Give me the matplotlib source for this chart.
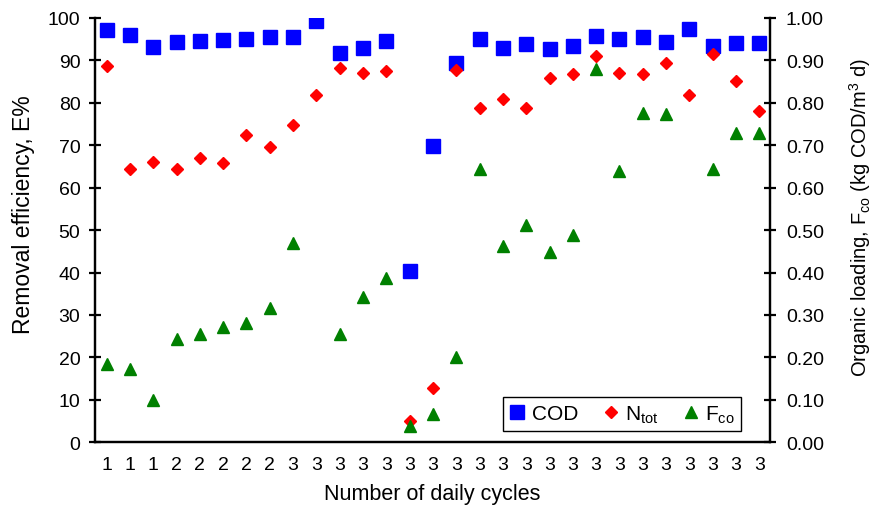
import numpy as np
import matplotlib
matplotlib.use("Agg")
import matplotlib.pyplot as plt
from matplotlib.ticker import FormatStrFormatter

plt.rcParams['font.family'] = ['Liberation Sans', 'DejaVu Sans']
plt.rcParams['mathtext.fontset'] = 'custom'
plt.rcParams['mathtext.rm'] = 'Liberation Sans'
plt.rcParams['mathtext.it'] = 'Liberation Sans:italic'

# daily cycles for each run
cycles = [1, 1, 1, 2, 2, 2, 2, 2] + [3] * 21

# removal efficiency, %
cod = [97.1, 95.9, 93.2, 94.3, 94.5, 94.7, 95.0, 95.4, 95.4, 99.2, 91.7, 92.9,
       94.5, 40.3, 69.8, 89.5, 95.0, 93.0, 93.8, 92.8, 93.3, 95.7, 95.0, 95.4,
       94.4, 97.3, 93.3, 94.0, 94.0]
ntot = [88.7, 64.5, 66.0, 64.5, 67.1, 65.9, 72.5, 69.6, 74.8, 81.8, 88.3, 87.1,
        87.6, 5.1, 12.9, 87.8, 78.8, 81.0, 78.8, 85.9, 86.9, 91.0, 87.0, 86.9,
        89.5, 81.9, 91.4, 85.1, 78.1]

# organic loading, kg COD/m3 d
fco = [0.185, 0.173, 0.100, 0.244, 0.255, 0.271, 0.281, 0.317, 0.470, np.nan,
       0.255, 0.342, 0.388, 0.038, 0.067, 0.201, 0.645, 0.462, 0.513, 0.448,
       0.489, 0.879, 0.639, 0.776, 0.773, np.nan, 0.645, 0.729, 0.729]

x = np.arange(len(cycles))

fig = plt.figure(figsize=(8.73, 5.06), dpi=100)
ax = fig.add_axes([0.1088, 0.124, 0.773, 0.8385])
ax2 = ax.twinx()

h1, = ax.plot(x, cod, 's', color='#0000FF', markersize=9.4, linestyle='none', label='COD')
h2, = ax.plot(x, ntot, 'D', color='#FF0000', markersize=6.2, linestyle='none',
              label=r'N$_{\mathregular{tot}}$')
h3, = ax2.plot(x, fco, '^', color='#008000', markersize=8.8, linestyle='none',
               label=r'F$_{\mathregular{co}}$')

ax.set_xlim(-0.5, len(cycles) - 0.55)
ax.set_ylim(0, 100)
ax2.set_ylim(0, 1.0)
ax.set_yticks(np.arange(0, 101, 10))
ax2.set_yticks(np.arange(0, 1.01, 0.1))
ax2.yaxis.set_major_formatter(FormatStrFormatter('%.2f'))
ax.set_xticks(x)
ax.set_xticklabels([str(c) for c in cycles])

for a in (ax, ax2):
    a.spines['top'].set_visible(False)
    for s in a.spines.values():
        s.set_linewidth(1.6)
ax.tick_params(axis='y', direction='inout', length=9, width=1.6, labelsize=14, pad=6)
ax2.tick_params(axis='y', direction='inout', length=9, width=1.6, labelsize=14, pad=7)
ax.tick_params(axis='x', length=0, labelsize=14, pad=10)

ax.set_ylabel('Removal efficiency, E%', fontsize=16.5)
ax.yaxis.set_label_coords(-0.089, 0.54)
ax2.set_ylabel(r'Organic loading, F$_{\mathregular{co}}$ (kg COD/m$^{\mathregular{3}}$ d)',
               fontsize=14.5)
ax2.yaxis.set_label_coords(1.1145, 0.531)
ax.set_xlabel('Number of daily cycles', fontsize=15.5)
ax.xaxis.set_label_coords(0.5, -0.097)

leg = ax2.legend(handles=[h1, h2, h3], loc='lower right', ncol=3, fontsize=15,
                 frameon=True, fancybox=False, edgecolor='black', framealpha=1,
                 bbox_to_anchor=(0.958, 0.027), borderaxespad=0,
                 handlelength=0.8, handletextpad=0.3, columnspacing=1.15,
                 borderpad=0.3)
leg.get_frame().set_linewidth(1.0)

fig.savefig('out.png', dpi=100)
